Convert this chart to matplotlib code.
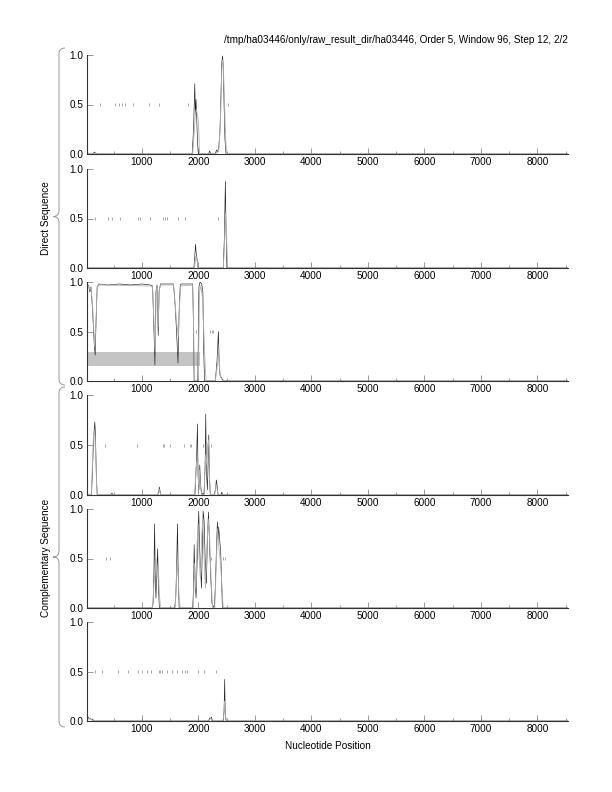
#!/usr/bin/env python3
"""
Six stacked probability tracks along the nucleotide position,
direct strand on top, complementary strand below.
"""

import matplotlib
matplotlib.use("Agg")
import matplotlib.pyplot as plt
from matplotlib.path import Path
from matplotlib.patches import PathPatch
from matplotlib.ticker import MultipleLocator

plt.rcParams['font.family'] = ['Liberation Sans', 'DejaVu Sans']

TITLE = "/tmp/ha03446/only/raw_result_dir/ha03446, Order 5, Window 96, Step 12, 2/2"
X_LABEL = "Nucleotide Position"
GROUP_LABELS = ["Direct Sequence", "Complementary Sequence"]
X_RANGE = [30, 8540]
Y_TICKS = [0.0, 0.5, 1.0]

# panel 1 (direct)
p1_bx = [30, 100, 140, 160, 200, 1890, 1915, 1937, 1948, 1960, 1972, 1985, 2000, 2180, 2200, 2220,
         2300, 2320, 2340, 2360, 2380, 2400, 2415, 2428, 2440, 2455, 2470, 2490, 8540]
p1_by = [0.0, 0.0, 0.0, 0.02, 0.0, 0.0, 0.25, 0.71, 0.4, 0.55, 0.35, 0.12, 0.0, 0.0, 0.03, 0.0,
         0.0, 0.04, 0.02, 0.06, 0.2, 0.6, 0.92, 0.99, 0.9, 0.5, 0.15, 0.0, 0.0]
p1_gx = [30, 1900, 1925, 1945, 1965, 1985, 2005, 2020, 2300, 2360, 2390, 2410, 2425, 2440, 2460, 2480, 2500, 8540]
p1_gy = [0, 0, 0.2, 0.4, 0.45, 0.4, 0.3, 0, 0, 0.03, 0.3, 0.75, 0.95, 0.9, 0.6, 0.2, 0, 0]
p1_marks = [256, 520, 590, 645, 700, 840, 1120, 1295, 1825, 2530]

# panel 2 (direct)
p2_bx = [30, 1920, 1935, 1950, 1962, 1975, 1995, 2440, 2460, 2478, 2490, 2505, 8540]
p2_by = [0, 0, 0.1, 0.24, 0.15, 0.1, 0, 0, 0.3, 0.875, 0.4, 0, 0]
p2_gx = [30, 1930, 1955, 1975, 2000, 2440, 2462, 2480, 2500, 2520, 8540]
p2_gy = [0, 0, 0.12, 0.08, 0, 0, 0.2, 0.55, 0.3, 0, 0]
p2_marks = [173, 409, 467, 614, 938, 967, 1143, 1379, 1408, 1437, 1644, 1772, 2349]

# panel 3 (direct)
p3_bx = [30, 60, 80, 100, 130, 160, 175, 190, 210, 240, 400, 600, 800, 1000, 1150, 1190, 1215, 1232,
         1250, 1270, 1290, 1305, 1330, 1560, 1580, 1610, 1640, 1660, 1680, 1700, 1900, 1915, 1925,
         1990, 2010, 2030, 2060, 2080, 2095, 2110, 2130, 2300, 2330, 2355, 2370, 2385, 2400, 2420,
         2445, 8540]
p3_by = [0.98, 0.96, 0.9, 0.95, 0.7, 0.35, 0.26, 0.6, 0.95, 0.98, 0.97, 0.98, 0.97, 0.98, 0.97, 0.96,
         0.5, 0.16, 0.9, 0.97, 0.46, 0.9, 0.98, 0.98, 0.85, 0.55, 0.18, 0.7, 0.97, 0.98, 0.98, 0.5,
         0.0, 0.0, 0.95, 1.0, 0.98, 0.9, 0.3, 0.0, 0.0, 0.0, 0.2, 0.5, 0.15, 0.05, 0.04, 0.02, 0.0, 0.0]
p3_gx = [30, 60, 80, 100, 130, 165, 185, 210, 240, 1150, 1190, 1215, 1235, 1255, 1275, 1290, 1310,
         1330, 1560, 1585, 1615, 1645, 1665, 1690, 1900, 1915, 1930, 2000, 2020, 2045, 2070, 2090,
         2110, 2125, 2140, 2300, 2335, 2360, 2380, 2400, 2430, 8540]
p3_gy = [0.97, 0.95, 0.92, 0.95, 0.75, 0.35, 0.55, 0.94, 0.97, 0.96, 0.95, 0.6, 0.3, 0.92, 0.96,
         0.55, 0.92, 0.97, 0.97, 0.8, 0.6, 0.45, 0.75, 0.96, 0.97, 0.6, 0.0, 0.0, 0.9, 0.96, 0.85,
         0.6, 0.3, 0.1, 0.0, 0.0, 0.15, 0.3, 0.1, 0.03, 0.0, 0.0]
p3_marks = [1966, 2210, 2237, 2263]
p3_band_x = [30, 2025]
p3_band_lo = 0.155
p3_band_hi = 0.29

# panel 4 (complementary)
p4_bx = [30, 110, 130, 150, 168, 180, 195, 210, 220, 450, 470, 490, 1280, 1300, 1310, 1325, 1340,
         1940, 1955, 1970, 1984, 1995, 2010, 2025, 2040, 2060, 2080, 2100, 2120, 2131, 2142, 2160,
         2172, 2184, 2196, 2210, 2280, 2300, 2319, 2335, 2350, 2400, 2415, 2430, 8540]
p4_by = [0, 0, 0.3, 0.6, 0.73, 0.6, 0.2, 0.0, 0.0, 0.0, 0.02, 0.0, 0.0, 0.04, 0.08, 0.03, 0.0,
         0.0, 0.2, 0.4, 0.71, 0.2, 0.05, 0.3, 0.1, 0.0, 0.02, 0.0, 0.3, 0.81, 0.25, 0.05,
         0.3, 0.6, 0.2, 0.0, 0.0, 0.05, 0.15, 0.08, 0.0, 0.0, 0.03, 0.0, 0]
p4_gx = [30, 105, 125, 145, 165, 185, 200, 215, 1290, 1310, 1330, 1930, 1950, 1970, 1990, 2005,
         2020, 2035, 2060, 2100, 2115, 2130, 2150, 2165, 2180, 2195, 2215, 2290, 2310, 2325, 2345, 8540]
p4_gy = [0, 0, 0.3, 0.6, 0.62, 0.4, 0.1, 0.0, 0.0, 0.06, 0.0, 0.0, 0.15, 0.33, 0.25, 0.1,
         0.25, 0.1, 0.0, 0.0, 0.25, 0.4, 0.3, 0.5, 0.55, 0.2, 0.0, 0.0, 0.1, 0.08, 0.0, 0]
p4_marks = [349, 908, 1379, 1397, 1496, 1750, 1849, 1878, 2085, 2231]

# panel 5 (complementary)
p5_bx = [30, 1180, 1200, 1215, 1226, 1238, 1250, 1265, 1280, 1295, 1310, 1580, 1600, 1615, 1631,
         1645, 1660, 1900, 1915, 1926, 1940, 1960, 1980, 2007, 2022, 2037, 2055, 2070, 2085, 2102,
         2120, 2143, 2160, 2180, 2200, 2220, 2240, 2280, 2300, 2320, 2337, 2350, 2360, 2375, 2395,
         2410, 2425, 8540]
p5_by = [0, 0, 0.05, 0.4, 0.85, 0.3, 0.1, 0.35, 0.6, 0.2, 0.0, 0.0, 0.1, 0.4, 0.85,
         0.3, 0.0, 0.0, 0.2, 0.64, 0.3, 0.1, 0.5, 0.98, 0.6, 0.43, 0.2, 0.6, 0.98, 0.88,
         0.5, 0.25, 0.7, 0.97, 0.6, 0.3, 0.05, 0.0, 0.2, 0.6, 0.87, 0.7, 0.82, 0.7, 0.58,
         0.3, 0.0, 0]
p5_gx = [30, 1190, 1210, 1230, 1250, 1270, 1290, 1310, 1330, 1590, 1610, 1625, 1640, 1660, 1680,
         1910, 1935, 1955, 1975, 1995, 2015, 2035, 2060, 2080, 2100, 2125, 2150, 2175, 2200, 2225,
         2250, 2290, 2315, 2340, 2365, 2385, 2410, 2440, 8540]
p5_gy = [0, 0, 0.2, 0.35, 0.5, 0.3, 0.45, 0.15, 0, 0, 0.25, 0.45, 0.35, 0.1, 0,
         0, 0.45, 0.2, 0.6, 0.85, 0.5, 0.3, 0.75, 0.9, 0.55, 0.2, 0.6, 0.9, 0.7, 0.3,
         0.0, 0.0, 0.4, 0.8, 0.6, 0.5, 0.3, 0.0, 0]
p5_marks = [362, 432, 2231, 2437, 2466]

# panel 6 (complementary)
p6_bx = [30, 50, 70, 90, 110, 130, 150, 2180, 2200, 2215, 2230, 2245, 2260, 2440, 2455, 2466, 2475, 2490, 8540]
p6_by = [0, 0.04, 0.02, 0.03, 0.01, 0.02, 0, 0, 0.03, 0.02, 0.04, 0.01, 0, 0, 0.1, 0.42, 0.1, 0, 0]
p6_gx = [30, 60, 100, 140, 2190, 2215, 2240, 2430, 2450, 2462, 2480, 2500, 8540]
p6_gy = [0, 0.03, 0.02, 0, 0, 0.03, 0, 0, 0.05, 0.2, 0.05, 0, 0]
p6_marks = [173, 291, 573, 750, 938, 1009, 1085, 1161, 1309, 1326, 1349, 1437, 1526, 1614, 1702,
            1761, 1808, 1997, 2102, 2307]

# pixel rows of the 1.0 and 0.0 lines for each panel (layout only)
PANEL_ROWS = [(55, 154), (169, 268), (282, 381), (395, 495), (509, 608), (622, 721)]
W, H = 612, 792


def brace(fig, top, bottom, tip_x=53, line_x=59, end_x=65):
    """Left curly brace between two pixel rows."""
    mid = (top + bottom) / 2
    pts = [(end_x, top), (line_x, top), (line_x, top + 6),
           (line_x, mid - 6),
           (line_x, mid), (tip_x, mid),
           (line_x, mid), (line_x, mid + 6),
           (line_x, bottom - 6),
           (line_x, bottom), (end_x, bottom)]
    codes = [Path.MOVETO, Path.CURVE3, Path.CURVE3, Path.LINETO,
             Path.CURVE3, Path.CURVE3, Path.CURVE3, Path.CURVE3,
             Path.LINETO, Path.CURVE3, Path.CURVE3]
    pts = [(x / W, 1 - y / H) for x, y in pts]
    fig.add_artist(PathPatch(Path(pts, codes), transform=fig.transFigure,
                             fill=False, edgecolor='#999999', lw=0.7))


def main():
    fig = plt.figure(figsize=(6.12, 7.92), dpi=100)

    panels = [
        (p1_bx, p1_by, p1_gx, p1_gy, p1_marks),
        (p2_bx, p2_by, p2_gx, p2_gy, p2_marks),
        (p3_bx, p3_by, p3_gx, p3_gy, p3_marks),
        (p4_bx, p4_by, p4_gx, p4_gy, p4_marks),
        (p5_bx, p5_by, p5_gx, p5_gy, p5_marks),
        (p6_bx, p6_by, p6_gx, p6_gy, p6_marks),
    ]

    left, right = 87 / W, 568 / W
    for i, (bx, by, gx, gy, marks) in enumerate(panels):
        top, bot = PANEL_ROWS[i]
        ax = fig.add_axes([left, 1 - bot / H, right - left, (bot - top) / H])

        if i == 2:
            ax.fill_between(p3_band_x, p3_band_lo, p3_band_hi, color='#c4c4c4', lw=0)

        ax.plot(bx, by, color='#222222', lw=0.45)
        ax.plot(gx, gy, color='#b0b0b0', lw=0.6)
        ax.vlines(marks, 0.485, 0.515, color='#9a9a9a', lw=0.6)

        ax.set_xlim(*X_RANGE)
        ax.set_ylim(0, 1.0)
        ax.set_yticks(Y_TICKS)
        ax.set_yticklabels([f"{v:.1f}" for v in Y_TICKS])
        ax.xaxis.set_major_locator(MultipleLocator(1000))
        ax.xaxis.set_minor_locator(MultipleLocator(500))

        for s in ['top', 'right']:
            ax.spines[s].set_visible(False)
        for s in ['left', 'bottom']:
            ax.spines[s].set_color('#333333')
            ax.spines[s].set_linewidth(0.8)

        ax.tick_params(axis='both', which='major', direction='in', length=4.5,
                       width=0.6, color='#888888', labelsize=7.2, pad=2.5)
        ax.tick_params(axis='x', which='minor', direction='in', length=2.2,
                       width=0.6, color='#888888')
        ax.set_facecolor('none')

    fig.text(568 / W, 1 - 40 / H, TITLE, ha='right', va='center', fontsize=7.2)
    fig.text((87 + 568) / 2 / W, 1 - 746 / H, X_LABEL, ha='center', va='center', fontsize=7.2)

    fig.text(46 / W, 1 - 218 / H, GROUP_LABELS[0], rotation=90,
             ha='center', va='center', fontsize=7.2)
    fig.text(46 / W, 1 - 558 / H, GROUP_LABELS[1], rotation=90,
             ha='center', va='center', fontsize=7.2)
    brace(fig, 48, 385)
    brace(fig, 387, 727)

    fig.savefig("out.png", dpi=100)
    print("saved out.png")


if __name__ == "__main__":
    main()
